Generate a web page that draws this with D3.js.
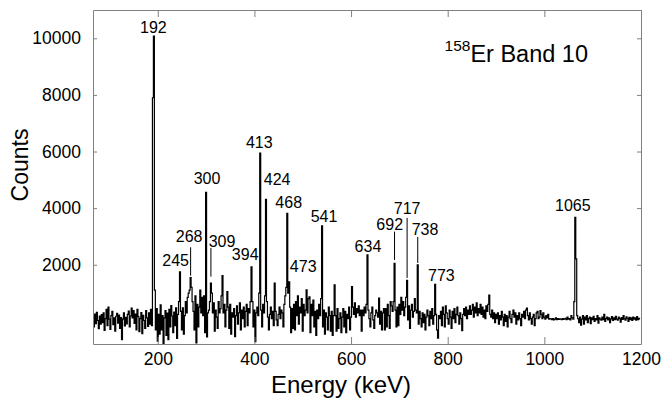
<!DOCTYPE html>
<html>
<head>
<meta charset="utf-8">
<script src="https://cdn.jsdelivr.net/npm/d3@7"></script>
<style>
  body { margin: 0; background: #fff; }
  svg { display: block; font-family: "Liberation Sans", Arial, sans-serif; }
  .frame .domain, .frame .tick line { stroke: #808080; }
</style>
</head>
<body>
<div id="chart"></div>
<script>

// spectrum: 2 keV bins starting at 66 keV
const binStart = 66, binWidth = 2;
const counts = [
  150, -200, 260, -80, 320, 30, -260, 190, -100, 240,       // 66
  -50, 300, -320, 100, 420, -150, 500, 80, -280, 200,       // 86
  350, -120, 120, -350, 180, 280, -60, 220, -250, 130,      // 106
  -650, 80, 300, -160, 140, -90, 250, 360, -200, 190,       // 126
  470, 120, 380, -70, 260, -300, 420, 170, -360, 100,       // 146
  310, -430, 210, 30, -250, 380, 120, -180, 300, -100,      // 166
  420, -150, 7900, 10080, 1100, -300, 450, -700, 250, -450, // 186
  580, -300, 200, -780, 120, 380, -500, 290, -650, 420,     // 206
  -200, 560, 190, -400, 330, -150, 480, -600, 250, 700,     // 226
  1750, 350, -300, 480, -450, 200, 700, 300, 850, 1000,     // 246
  1100, 1550, 1200, 700, 350, -300, 900, -760, 600, -200,   // 266
  500, 1100, 300, 850, 200, 900, -400, 4560, -550, 300,     // 286
  400, 700, 1350, 1000, 300, 650, -350, 400, 150, -250,     // 306
  700, 300, 450, 900, 1615, 300, 600, -200, 400, 1050,      // 326
  500, -250, 600, -450, 300, 150, 450, -540, 200, 550,      // 346
  -100, 300, 650, -300, 400, 100, 500, -200, 350, 600,      // 366
  -150, 450, 300, 700, 1930, 700, -200, 400, -717, 300,     // 386
  500, 200, 1000, 5940, 400, -200, 600, 300, 900, 4314,     // 406
  700, 150, -300, 250, 500, 100, 350, -150, 1350, 350,      // 426
  50, -150, 250, 500, 100, 400, 300, -200, 600, 900,        // 446
  1200, 3820, 1000, 1400, 500, -400, 450, -250, 600, -300,  // 466
  700, 200, 900, -100, 500, 300, 800, -350, 600, 200,       // 486
  400, 1110, 300, 800, 870, -400, 600, 200, 750, -200,      // 506
  350, -500, 400, 100, 600, 200, 800, 3371, -200, 400,      // 526
  -450, 300, 150, -300, 500, 200, -350, 350, -500, 200,     // 546
  1286, 200, -350, 450, -250, 100, 300, -400, 150, 450,     // 566
  -200, 350, -400, 250, 100, 500, -300, 150, 1226, 500,     // 586
  250, 650, 150, 450, 300, 550, 200, 400, -350, 400,        // 606
  200, 500, 300, 600, 2346, 400, 100, -200, 300, 500,       // 626
  50, -250, 200, 400, 300, 150, 820, -100, 350, -300,       // 646
  300, 450, -300, 450, -200, 600, 200, -250, 700, 550,      // 666
  350, 700, 2053, 400, -200, 500, -150, 600, 250, 850,      // 686
  400, 700, 200, 500, 850, 1450, 50, 550, -250, 400,        // 706
  600, 150, 350, 800, 400, 300, 2000, -100, 350, 100,       // 726
  -200, 300, -50, 250, -300, 150, 400, 200, -150, 350,      // 746
  100, 450, -100, 200, 1310, 250, -300, -590, 200, 100,     // 766
  350, -150, 500, 250, -200, 550, 300, 100, -100, 400,      // 786
  150, -250, 350, 100, 450, -50, 250, 500, 200, -100,       // 806
  300, 100, -330, 250, 450, 200, 500, 100, 400, 250,        // 826
  550, 250, 400, 600, 150, 500, 300, 650, 200, 450,         // 846
  300, 600, 250, 500, 150, 400, 100, 550, 350, 600,         // 866
  930, 250, 150, 400, 100, 300, -50, 250, 100, 300,         // 886
  -100, 200, 50, 350, 150, -150, 250, 0, 200, -200,         // 906
  150, 350, 100, -50, 250, 400, 150, 300, -100, 200,        // 926
  50, 300, 100, -150, 250, 150, 350, 100, 400, 470,         // 946
  200, 50, 300, 100, -100, 150, 250, -150, 100, 300,        // 966
  350, 100, 150, 380, 250, 100, 300, 150, 80, 200,          // 986
  120, 250, 80, 100, 90, 60, 100, 50, 80, 120,              // 1006
  60, 100, 70, 90, 80, 60, 100, 70, 90, 110,                // 1026
  60, 150, 80, 100, 50, 200, 120, 80, 700, 3678,            // 1046
  2205, 200, 100, -50, 150, -130, 80, 200, -100, 150,       // 1066
  50, 200, -50, 100, 150, -80, 120, 60, 180, 0,             // 1086
  100, 50, 200, -60, 120, 80, 40, 150, 60, 250,             // 1106
  0, 100, 150, 50, 120, -50, 90, 170, 30, 120,              // 1126
  60, 180, 80, 40, 150, 100, -30, 130, 70, 200,             // 1146
  90, 40, 160, 110, 0, 140, 60, 120, 30, 150,               // 1166
  80, 120, 40, 170, 60, 110, 90                             // 1186
];

// peak labels (text, anchor energy in keV, anchor height in counts)
const peakLabels = ["192", "245", "268", "300", "309", "394", "413", "424", "468", "473", "541", "634", "692", "717", "738", "773", "1065"];
const labelE = [191, 237, 265, 302, 333, 381, 410, 447, 471, 501, 544, 635, 680, 716, 753, 787, 1059];
const labelC = [10180, 1958, 2795, 4855, 2618, 2170, 6117, 4820, 4018, 1756, 3523, 2463, 3230, 3795, 3053, 1438, 3912];

// leader lines below some labels
const leaderE = [268, 310, 690, 716, 738];
const leaderTop = [2618, 2594, 3170, 3654, 2982];
const leaderBottom = [1615, 1580, 2170, 1534, 2064];

const xTicks = [200, 400, 600, 800, 1000, 1200];
const yTicks = [2000, 4000, 6000, 8000, 10000];

// set the dimensions and margins of the graph
const margin = { top: 10, right: 22, bottom: 55, left: 93 },
    width = 663 - margin.left - margin.right,
    height = 399 - margin.top - margin.bottom;

const svg = d3.select("#chart")
    .append("svg")
    .attr("width", width + margin.left + margin.right)
    .attr("height", height + margin.top + margin.bottom)
    .append("g")
    .attr("transform", `translate(${margin.left}, ${margin.top})`);

const x = d3.scaleLinear().domain([66, 1200]).range([0, width]);
const y = d3.scaleLinear().domain([-800, 11000]).range([height, 0]);

svg.append("clipPath").attr("id", "clip")
    .append("rect").attr("width", width).attr("height", height);

// spectrum
const spectrum = counts.map(function (c, i) { return { e: binStart + i * binWidth, c: c }; });
svg.append("path")
    .datum(spectrum)
    .attr("clip-path", "url(#clip)")
    .attr("fill", "none")
    .attr("stroke", "#000")
    .attr("stroke-width", 1.2)
    .attr("d", d3.line().curve(d3.curveStep)
        .x(function (d) { return x(d.e); })
        .y(function (d) { return y(d.c); }));

// axes (frame)
const fmt = d3.format("d");
svg.append("g").attr("class", "frame")
    .attr("transform", "translate(0," + height + ")")
    .call(d3.axisBottom(x).tickValues(xTicks).tickSizeInner(-7).tickSizeOuter(0).tickPadding(9).tickFormat(fmt));
svg.append("g").attr("class", "frame")
    .call(d3.axisTop(x).tickValues(xTicks).tickSizeInner(-7).tickSizeOuter(0).tickFormat(""));
svg.append("g").attr("class", "frame")
    .call(d3.axisLeft(y).tickValues(yTicks).tickSizeInner(-4).tickSizeOuter(0).tickPadding(12).tickFormat(fmt));
svg.append("g").attr("class", "frame")
    .attr("transform", "translate(" + width + ",0)")
    .call(d3.axisRight(y).tickValues(yTicks).tickSizeInner(-4).tickSizeOuter(0).tickFormat(""));

svg.selectAll(".frame").attr("font-family", null).attr("font-size", null);
svg.selectAll(".frame text")
    .attr("font-size", 17.5)
    .attr("fill", "#000");

// leader lines
svg.selectAll(".leader")
    .data(leaderE)
    .enter()
    .append("line")
    .attr("class", "leader")
    .attr("x1", function (d) { return x(d); })
    .attr("x2", function (d) { return x(d); })
    .attr("y1", function (d, i) { return y(leaderTop[i]); })
    .attr("y2", function (d, i) { return y(leaderBottom[i]); })
    .attr("stroke", "#000")
    .attr("stroke-width", 1);

// peak labels
svg.selectAll(".plabel")
    .data(peakLabels)
    .enter()
    .append("text")
    .attr("class", "plabel")
    .attr("x", function (d, i) { return x(labelE[i]); })
    .attr("y", function (d, i) { return y(labelC[i]); })
    .attr("text-anchor", "middle")
    .attr("font-size", 16)
    .text(function (d) { return d; });

// title
const title = svg.append("text")
    .attr("x", 588 - margin.left)
    .attr("y", 62 - margin.top)
    .attr("text-anchor", "end");
title.append("tspan").attr("font-size", 15.5).attr("dy", -11).text("158");
title.append("tspan").attr("font-size", 23.5).attr("dy", 11).text("Er Band 10");

// axis titles
svg.append("text")
    .attr("x", 341 - margin.left)
    .attr("y", height + 49)
    .attr("text-anchor", "middle")
    .attr("font-size", 24)
    .text("Energy (keV)");

svg.append("text")
    .attr("transform", "translate(" + (28 - margin.left) + "," + (165 - margin.top) + ") rotate(-90)")
    .attr("text-anchor", "middle")
    .attr("font-size", 23)
    .text("Counts");

</script>
</body>
</html>
